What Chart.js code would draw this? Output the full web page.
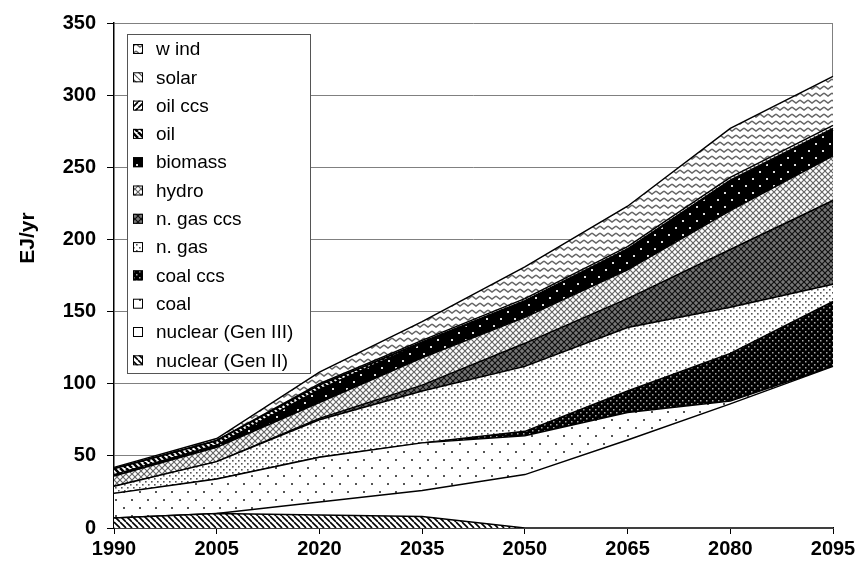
<!DOCTYPE html>
<html>
<head>
<meta charset="utf-8">
<script src="https://cdn.jsdelivr.net/npm/chart.js@4.4.1/dist/chart.umd.min.js"></script>
<style>
  html, body { margin: 0; padding: 0; background: #fff; }
  #wrap { width: 862px; height: 578px; }
</style>
</head>
<body>
<div id="wrap"><canvas id="energyChart" width="862" height="578"></canvas></div>
<script>
// Electricity generation by technology, EJ/yr (stacked)
const years = ['1990', '2005', '2020', '2035', '2050', '2065', '2080', '2095'];

const nuclearGen2 = [7, 10, 9, 8, 0, 0, 0, 0];
const nuclearGen3 = [0, 0, 9, 18, 37, 61, 86, 112];
const coal = [17, 24, 31, 33, 27, 19, 2, 0];
const coalCcs = [0, 0, 0, 0, 3, 15, 33, 45];
const natGas = [5, 12, 26, 36, 45, 44, 32, 12];
const natGasCcs = [0, 0, 1, 4, 16, 20, 40, 58];
const hydro = [7, 10, 11, 19, 18, 20, 27, 31];
const biomass = [1, 1.5, 9, 10, 11, 14, 20, 18];
const oil = [4, 3, 3, 0.5, 0, 0, 0, 0];
const oilCcs = [0, 0, 0, 0.5, 0.5, 0.5, 1, 1];
const solar = [0, 0.2, 1, 1, 1.5, 1.5, 2, 2];
const wind = [1, 1.3, 8, 13, 22, 28, 34, 34];

const yTicks = [0, 50, 100, 150, 200, 250, 300, 350];

const canvas = document.getElementById('energyChart');
const ctx = canvas.getContext('2d');

// small helper for the black & white fill patterns
function makePattern(w, h, bg, draw) {
    const c = document.createElement('canvas');
    c.width = w;
    c.height = h;
    const g = c.getContext('2d');
    g.fillStyle = bg;
    g.fillRect(0, 0, w, h);
    draw(g);
    return ctx.createPattern(c, 'repeat');
}

function stripes(g, size, color, width, dir) {
    g.strokeStyle = color;
    g.lineWidth = width;
    g.beginPath();
    for (let k = -1; k <= 1; k++) {
        if (dir > 0) { // "\" direction
            g.moveTo(k * size, 0);
            g.lineTo(k * size + size, size);
        } else { // "/" direction
            g.moveTo(k * size, size);
            g.lineTo(k * size + size, 0);
        }
    }
    g.stroke();
}

function dots(g, pts, color, r) {
    g.fillStyle = color;
    pts.forEach(p => g.fillRect(p[0], p[1], r, r));
}

const patterns = {
    gen2: makePattern(6, 6, '#fff', g => stripes(g, 6, '#000', 1.6, 1)),
    gen3: '#fff',
    coal: makePattern(16, 16, '#fff', g => dots(g, [[3, 3], [11, 11]], '#555', 2)),
    coalCcs: makePattern(6, 6, '#000', g => dots(g, [[1, 1], [4, 4]], '#aaa', 1.5)),
    natGas: makePattern(6, 6, '#fff', g => dots(g, [[1, 1], [4, 4]], '#555', 1.6)),
    natGasCcs: makePattern(6, 6, '#777', g => { stripes(g, 6, '#111', 1.2, 1); stripes(g, 6, '#111', 1.2, -1); }),
    hydro: makePattern(6, 6, '#fff', g => { stripes(g, 6, '#666', 1.2, 1); stripes(g, 6, '#666', 1.2, -1); }),
    biomass: makePattern(14, 14, '#000', g => dots(g, [[3, 3], [10, 10]], '#ddd', 2)),
    oil: makePattern(6, 6, '#fff', g => stripes(g, 6, '#000', 2.6, 1)),
    oilCcs: makePattern(6, 6, '#fff', g => stripes(g, 6, '#000', 1.8, -1)),
    solar: makePattern(6, 6, '#fff', g => stripes(g, 6, '#555', 1.2, 1)),
    wind: makePattern(8, 7, '#fff', g => {
        g.strokeStyle = '#666';
        g.lineWidth = 1.5;
        g.beginPath();
        g.moveTo(0, 2); g.lineTo(4, 5); g.lineTo(8, 2);
        g.stroke();
    })
};

const series = [
    { label: 'nuclear (Gen II)', data: nuclearGen2, fill: patterns.gen2 },
    { label: 'nuclear (Gen III)', data: nuclearGen3, fill: patterns.gen3 },
    { label: 'coal', data: coal, fill: patterns.coal },
    { label: 'coal ccs', data: coalCcs, fill: patterns.coalCcs },
    { label: 'n. gas', data: natGas, fill: patterns.natGas },
    { label: 'n. gas ccs', data: natGasCcs, fill: patterns.natGasCcs },
    { label: 'hydro', data: hydro, fill: patterns.hydro },
    { label: 'biomass', data: biomass, fill: patterns.biomass },
    { label: 'oil', data: oil, fill: patterns.oil },
    { label: 'oil ccs', data: oilCcs, fill: patterns.oilCcs },
    { label: 'solar', data: solar, fill: patterns.solar },
    { label: 'w ind', data: wind, fill: patterns.wind }
];

// legend box inside the plot, plus y title and right frame line
const decorPlugin = {
    id: 'decor',
    beforeDatasetsDraw(chart) {
        const a = chart.chartArea;
        const c = chart.ctx;
        c.save();
        c.strokeStyle = '#808080';
        c.lineWidth = 1;
        c.beginPath();
        c.moveTo(a.right - 0.5, a.top);
        c.lineTo(a.right - 0.5, a.bottom);
        c.stroke();
        c.restore();
    },
    afterDraw(chart) {
        const a = chart.chartArea;
        const c = chart.ctx;
        c.save();

        // y axis title
        c.fillStyle = '#000';
        c.font = 'bold 21px "Liberation Sans", Arial, sans-serif';
        c.textAlign = 'center';
        c.textBaseline = 'middle';
        c.translate(28, 238);
        c.rotate(-Math.PI / 2);
        c.fillText('EJ/yr', 0, 0);
        c.setTransform(1, 0, 0, 1, 0, 0);

        // legend
        const bx = a.left + 13, by = a.top + 11, bw = 183, bh = 339;
        c.fillStyle = '#fff';
        c.fillRect(bx, by, bw, bh);
        c.strokeStyle = '#555';
        c.lineWidth = 1;
        c.strokeRect(bx + 0.5, by + 0.5, bw, bh);

        const items = chart.data.datasets.slice().reverse();
        c.font = '19px "Liberation Sans", Arial, sans-serif';
        c.textAlign = 'left';
        c.textBaseline = 'middle';
        items.forEach((ds, i) => {
            const cy = by + 15 + i * 28.3;
            c.fillStyle = ds.backgroundColor;
            c.fillRect(bx + 6, cy - 5, 10, 10);
            c.strokeStyle = '#000';
            c.strokeRect(bx + 6.5, cy - 4.5, 9, 9);
            c.fillStyle = '#000';
            c.fillText(ds.label, bx + 29, cy + 1);
        });
        c.restore();
    }
};

const energyChart = new Chart(ctx, {
    type: 'line',
    data: {
        labels: years,
        datasets: series.map((s, i) => ({
            label: s.label,
            data: s.data,
            backgroundColor: s.fill,
            borderColor: '#000',
            borderWidth: 1.5,
            fill: i === 0 ? 'origin' : '-1',
            pointRadius: 0,
            tension: 0
        }))
    },
    options: {
        responsive: false,
        animation: false,
        devicePixelRatio: 1,
        layout: { padding: { left: 0, right: 29, top: 22, bottom: 0 } },
        scales: {
            x: {
                type: 'category',
                offset: false,
                grid: { drawOnChartArea: false, tickLength: 6, color: '#000' },
                border: { color: '#000', width: 1.5 },
                ticks: {
                    color: '#000',
                    font: { family: '"Liberation Sans", Arial, sans-serif', size: 20, weight: 'bold' },
                    padding: 3,
                    maxRotation: 0,
                    autoSkip: false
                },
                afterFit(scale) { scale.height = 50; }
            },
            y: {
                stacked: true,
                min: 0,
                max: 350,
                afterBuildTicks(scale) { scale.ticks = yTicks.map(v => ({ value: v })); },
                grid: { color: '#808080', lineWidth: 1, tickLength: 7, tickColor: '#000' },
                border: { color: '#000', width: 1.5 },
                ticks: {
                    color: '#000',
                    font: { family: '"Liberation Sans", Arial, sans-serif', size: 20, weight: 'bold' },
                    padding: 11
                },
                afterFit(scale) { scale.width = 114; }
            }
        },
        plugins: {
            legend: { display: false },
            tooltip: { enabled: false }
        }
    },
    plugins: [decorPlugin]
});
</script>
</body>
</html>
